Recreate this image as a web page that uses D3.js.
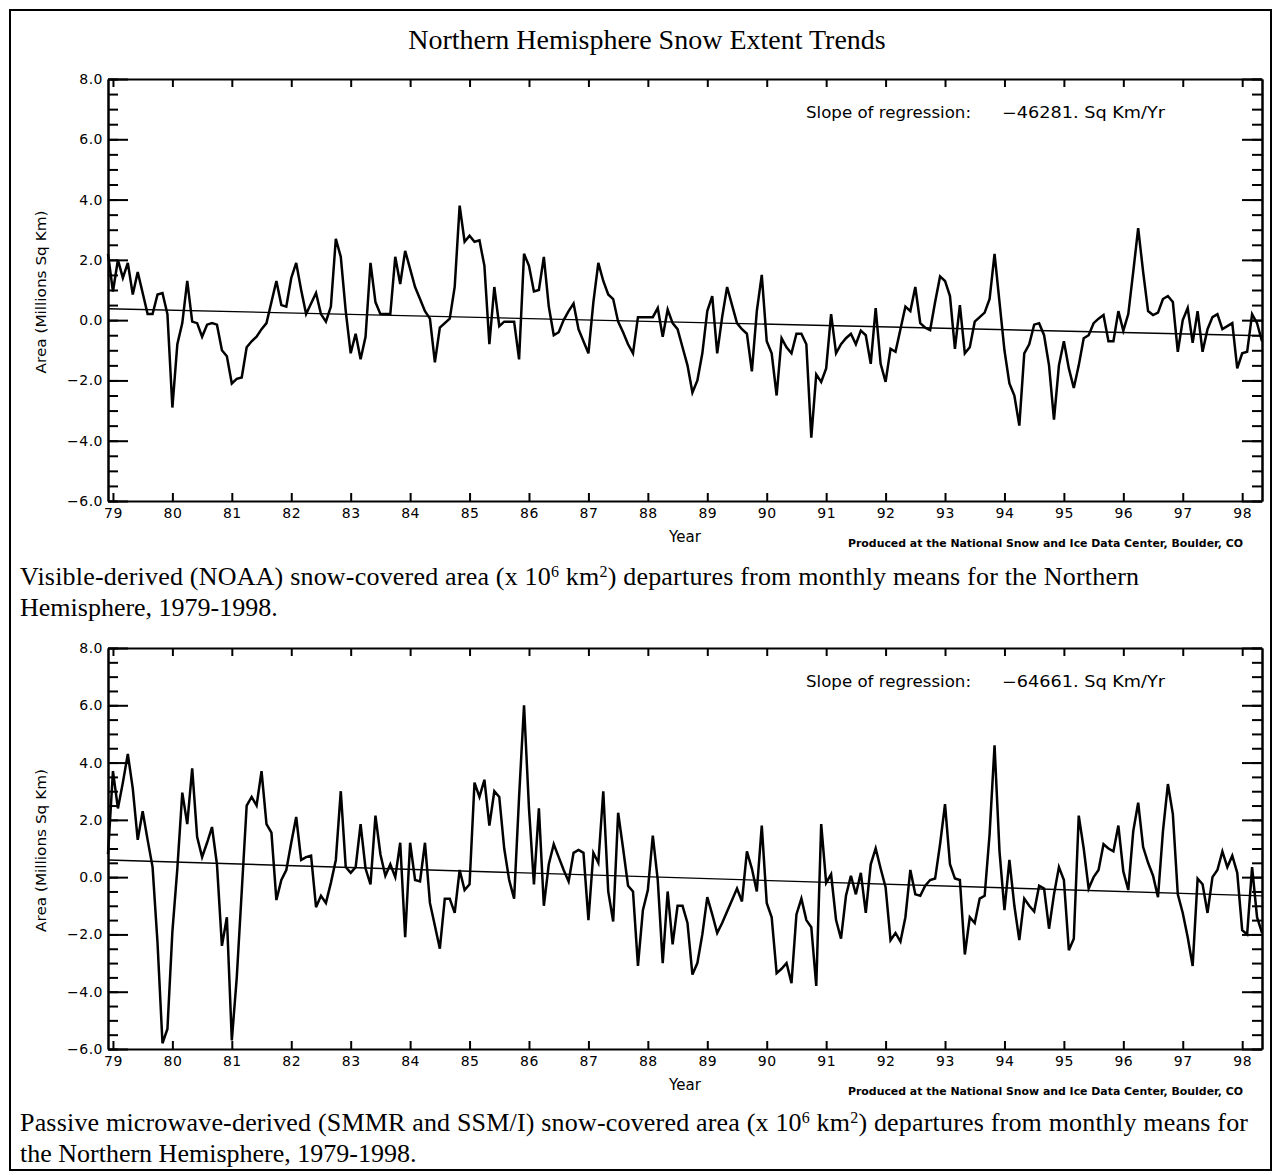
<!DOCTYPE html>
<html>
<head>
<meta charset="utf-8">
<script src="https://cdnjs.cloudflare.com/ajax/libs/d3/7.8.5/d3.min.js"></script>
<style>
    body { margin: 0; background: #fff; }
    .axis path, .axis line { stroke: #000; stroke-width: 2px; }
    .axis text { font-family: "DejaVu Sans", sans-serif; font-size: 14px; letter-spacing: 0.5px; fill: #000; }
    .label { font-family: "DejaVu Sans", sans-serif; font-size: 14px; fill: #000; }
    .caption { font-family: "Liberation Serif", "Times New Roman", serif; font-size: 26px; fill: #000; }
</style>
</head>
<body>
<svg id="chart" width="1281" height="1175"></svg>
<script>
    // monthly departures, first value = Dec 1978, last = May 1998
    const firstMonth = 1978 + 11 / 12;

    const noaa = [
        2.2, 0.95, 2.0, 1.4, 1.9, 0.85, 1.6, 0.9, 0.2, 0.2, 0.85, 0.9,
        0.2, -2.9, -0.8, -0.1, 1.3, -0.05, -0.1, -0.55, -0.15, -0.1, -0.15, -1.0,
        -1.2, -2.1, -1.95, -1.9, -0.9, -0.7, -0.55, -0.3, -0.1, 0.6, 1.3, 0.5,
        0.45, 1.4, 1.9, 1.0, 0.2, 0.55, 0.9, 0.2, -0.05, 0.45, 2.7, 2.1,
        0.3, -1.1, -0.45, -1.3, -0.55, 1.9, 0.6, 0.2, 0.2, 0.2, 2.1, 1.2,
        2.3, 1.7, 1.1, 0.7, 0.3, 0.05, -1.4, -0.25, -0.1, 0.05, 1.1, 3.8,
        2.6, 2.8, 2.6, 2.65, 1.8, -0.8, 1.1, -0.2, -0.05, -0.05, -0.05, -1.3,
        2.2, 1.8, 0.95, 1.0, 2.1, 0.45, -0.5, -0.4, 0.0, 0.3, 0.55, -0.3,
        -0.7, -1.1, 0.6, 1.9, 1.3, 0.85, 0.7, -0.05, -0.4, -0.8, -1.1, 0.1,
        0.1, 0.1, 0.1, 0.4, -0.55, 0.35, -0.1, -0.3, -0.9, -1.5, -2.4, -2.0,
        -1.1, 0.3, 0.8, -1.1, 0.1, 1.1, 0.5, -0.1, -0.3, -0.45, -1.7, 0.3,
        1.5, -0.7, -1.1, -2.5, -0.6, -0.9, -1.1, -0.45, -0.45, -0.8, -3.9, -1.8,
        -2.05, -1.6, 0.2, -1.1, -0.8, -0.6, -0.45, -0.8, -0.35, -0.5, -1.45, 0.4,
        -1.45, -2.05, -0.95, -1.05, -0.3, 0.45, 0.3, 1.1, -0.1, -0.25, -0.33, 0.6,
        1.45, 1.3, 0.8, -0.95, 0.5, -1.1, -0.9, -0.05, 0.1, 0.25, 0.7, 2.2,
        0.6, -1.0, -2.1, -2.5, -3.5, -1.1, -0.8, -0.15, -0.1, -0.5, -1.5, -3.3,
        -1.5, -0.7, -1.6, -2.25, -1.5, -0.6, -0.5, -0.1, 0.05, 0.17, -0.7, -0.7,
        0.3, -0.35, 0.2, 1.6, 3.05, 1.6, 0.3, 0.17, 0.25, 0.7, 0.8, 0.6,
        -1.05, 0.0, 0.4, -0.75, 0.3, -1.05, -0.3, 0.1, 0.2, -0.3, -0.2, -0.1,
        -1.6, -1.1, -1.05, 0.2, -0.1, -0.7
    ];

    const microwave = [
        0.8, 3.7, 2.4, 3.3, 4.3, 3.1, 1.3, 2.3, 1.3, 0.35, -2.3, -5.8,
        -5.3, -1.9, 0.3, 2.95, 1.85, 3.8, 1.4, 0.7, 1.2, 1.75, 0.45, -2.4,
        -1.4, -5.7, -3.5, -0.5, 2.5, 2.8, 2.5, 3.7, 1.85, 1.55, -0.8, -0.1,
        0.25, 1.2, 2.1, 0.6, 0.7, 0.75, -1.05, -0.65, -0.9, -0.2, 0.6, 3.0,
        0.35, 0.15, 0.35, 1.85, 0.3, -0.25, 2.15, 0.8, 0.05, 0.45, 0.0, 1.2,
        -2.1, 1.2, -0.1, -0.15, 1.2, -0.9, -1.7, -2.5, -0.75, -0.75, -1.25, 0.25,
        -0.45, -0.25, 3.3, 2.8, 3.4, 1.8, 3.0, 2.8, 1.0, -0.1, -0.75, 2.8,
        6.0, 2.4, -0.25, 2.4, -1.0, 0.45, 1.15, 0.7, 0.25, -0.15, 0.85, 0.95,
        0.85, -1.5, 0.85, 0.5, 3.0, -0.5, -1.55, 2.25, 1.0, -0.3, -0.5, -3.1,
        -1.15, -0.45, 1.45, -0.1, -3.0, -0.5, -2.35, -1.0, -1.0, -1.6, -3.4, -3.0,
        -2.0, -0.7, -1.3, -1.95, -1.6, -1.2, -0.8, -0.4, -0.85, 0.9, 0.3, -0.5,
        1.8, -0.9, -1.4, -3.35, -3.2, -3.0, -3.7, -1.3, -0.75, -1.5, -1.75, -3.8,
        1.85, -0.2, 0.1, -1.5, -2.15, -0.65, 0.05, -0.6, 0.15, -1.25, 0.45, 1.0,
        0.3, -0.35, -2.2, -1.95, -2.25, -1.4, 0.25, -0.6, -0.65, -0.3, -0.1, -0.05,
        1.15, 2.55, 0.45, -0.05, -0.1, -2.7, -1.4, -1.6, -0.75, -0.65, 1.5, 4.6,
        0.9, -1.15, 0.6, -1.0, -2.2, -0.75, -1.0, -1.2, -0.3, -0.4, -1.8, -0.6,
        0.35, -0.1, -2.55, -2.15, 2.15, 1.0, -0.4, 0.0, 0.25, 1.15, 1.0, 0.9,
        1.8, 0.2, -0.45, 1.6, 2.6, 1.05, 0.5, 0.05, -0.7, 1.6, 3.25, 2.2,
        -0.6, -1.25, -2.1, -3.1, -0.05, -0.25, -1.25, 0.0, 0.25, 0.9, 0.35, 0.75,
        0.15, -1.85, -2.0, 0.35, -1.4, -1.95
    ];

    const yearTicks = d3.range(1979, 1999);
    const yTicks = [-6, -4, -2, 0, 2, 4, 6, 8];
    const yMinor = d3.range(-6, 8.01, 0.5);
    const slopes = [-46281, -64661];      // Sq Km / Yr
    const regStart = [0.38, 0.6];         // fit value at first month

    const svg = d3.select("#chart");

    // outer frame
    svg.append("rect").attr("x", 10).attr("y", 10).attr("width", 1261).attr("height", 1160)
        .attr("fill", "none").attr("stroke", "#000").attr("stroke-width", 2);

    svg.append("text")
        .attr("x", 647).attr("y", 49)
        .attr("text-anchor", "middle")
        .attr("class", "caption")
        .style("font-size", "28px")
        .text("Northern Hemisphere Snow Extent Trends");

    const x = d3.scaleLinear()
        .domain([firstMonth, firstMonth + (noaa.length - 1) / 12])
        .range([108, 1262]);

    const panels = [
        { data: noaa, top: 79, bottom: 501, slope: slopes[0], start: regStart[0] },
        { data: microwave, top: 648, bottom: 1049, slope: slopes[1], start: regStart[1] }
    ];

    panels.forEach(p => {
        const y = d3.scaleLinear().domain([-6, 8]).range([p.bottom, p.top]);
        const g = svg.append("g");

        // axes, ticks pointing inward
        g.append("g").attr("class", "axis").attr("transform", `translate(0,${p.bottom})`)
            .call(d3.axisBottom(x).tickValues(yearTicks).tickSize(-8).tickSizeOuter(0)
                .tickPadding(7).tickFormat(d => String(d % 100).padStart(2, "0")));
        g.append("g").attr("class", "axis").attr("transform", `translate(0,${p.top})`)
            .call(d3.axisTop(x).tickValues(yearTicks).tickSize(-8).tickSizeOuter(0).tickFormat(""));
        g.append("g").attr("class", "axis").attr("transform", "translate(108,0)")
            .call(d3.axisLeft(y).tickValues(yMinor).tickSize(-10).tickSizeOuter(0).tickFormat(""));
        g.append("g").attr("class", "axis").attr("transform", "translate(108,0)")
            .call(d3.axisLeft(y).tickValues(yTicks).tickSize(-20).tickSizeOuter(0)
                .tickPadding(5).tickFormat(d3.format(".1f")));
        g.append("g").attr("class", "axis").attr("transform", "translate(1262,0)")
            .call(d3.axisRight(y).tickValues(yMinor).tickSize(-10).tickSizeOuter(0).tickFormat(""));
        g.append("g").attr("class", "axis").attr("transform", "translate(1262,0)")
            .call(d3.axisRight(y).tickValues(yTicks).tickSize(-20).tickSizeOuter(0).tickFormat(""));

        // regression line
        const span = (p.data.length - 1) / 12;
        g.append("line")
            .attr("x1", x(firstMonth)).attr("y1", y(p.start))
            .attr("x2", x(firstMonth + span)).attr("y2", y(p.start + p.slope / 1e6 * span))
            .attr("stroke", "#000").attr("stroke-width", 1.4);

        // monthly series
        const line = d3.line()
            .x((d, i) => x(firstMonth + i / 12))
            .y(d => y(d));
        g.append("path").datum(p.data)
            .attr("d", line)
            .attr("fill", "none")
            .attr("stroke", "#000")
            .attr("stroke-width", 2.5)
            .attr("stroke-linejoin", "miter");

        g.append("text").attr("class", "label")
            .attr("x", 806).attr("y", p.top + 39)
            .attr("textLength", 165).attr("lengthAdjust", "spacingAndGlyphs")
            .style("font-size", "15px")
            .text("Slope of regression:");
        g.append("text").attr("class", "label")
            .attr("x", 1002).attr("y", p.top + 39)
            .attr("textLength", 163).attr("lengthAdjust", "spacingAndGlyphs")
            .style("font-size", "15px")
            .text("\u2212" + Math.abs(p.slope) + ". Sq Km/Yr");

        g.append("text").attr("class", "label")
            .attr("transform", `translate(46,${(p.top + p.bottom) / 2 + 2}) rotate(-90)`)
            .attr("text-anchor", "middle")
            .attr("textLength", 163).attr("lengthAdjust", "spacingAndGlyphs")
            .text("Area (Millions Sq Km)");

        g.append("text").attr("class", "label")
            .attr("x", 685).attr("y", p.bottom + 41)
            .attr("text-anchor", "middle")
            .style("font-size", "15px")
            .text("Year");

        g.append("text").attr("class", "label")
            .attr("x", 1243).attr("y", p.bottom + 46)
            .attr("text-anchor", "end")
            .attr("textLength", 395).attr("lengthAdjust", "spacingAndGlyphs")
            .style("font-size", "10px").style("font-weight", "bold")
            .text("Produced at the National Snow and Ice Data Center, Boulder, CO");
    });

    function caption(y0, pre, post, line2, w) {
        const t = svg.append("text").attr("class", "caption").attr("x", 20).attr("y", y0)
            .attr("textLength", w).attr("lengthAdjust", "spacing");
        t.append("tspan").text(pre + " (x 10");
        t.append("tspan").attr("baseline-shift", "super").style("font-size", "16px").text("6");
        t.append("tspan").text(" km");
        t.append("tspan").attr("baseline-shift", "super").style("font-size", "16px").text("2");
        t.append("tspan").text(") " + post);
        svg.append("text").attr("class", "caption").attr("x", 20).attr("y", y0 + 31).text(line2);
    }
    caption(585, "Visible-derived (NOAA) snow-covered area",
        "departures from monthly means for the Northern", "Hemisphere, 1979-1998.", 1119);
    caption(1131, "Passive microwave-derived (SMMR and SSM/I) snow-covered area",
        "departures from monthly means for", "the Northern Hemisphere, 1979-1998.", 1228);
</script>
</body>
</html>
